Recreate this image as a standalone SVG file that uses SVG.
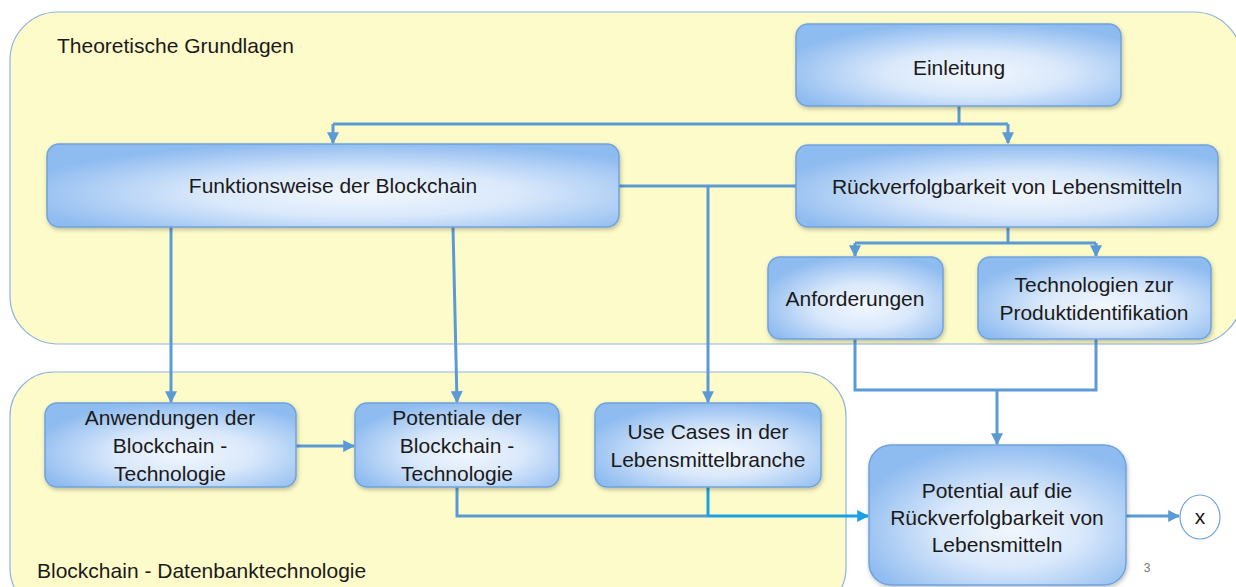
<svg xmlns="http://www.w3.org/2000/svg" width="1236" height="587" viewBox="0 0 1236 587">
  <defs>
    <radialGradient id="boxFill" cx="0.55" cy="0.6" r="0.62">
      <stop offset="0" stop-color="#F2F7FE"/>
      <stop offset="0.45" stop-color="#D9E8FB"/>
      <stop offset="1" stop-color="#8EBBF0"/>
    </radialGradient>
    <filter id="shadow" x="-10%" y="-10%" width="120%" height="130%">
      <feDropShadow dx="1" dy="2" stdDeviation="2" flood-color="#000" flood-opacity="0.25"/>
    </filter>
    <marker id="arrow" viewBox="0 0 10 10" refX="9" refY="5" markerWidth="4" markerHeight="4" orient="auto" markerUnits="strokeWidth">
      <path d="M0,0 L10,5 L0,10 z" fill="#5B9BD5"/>
    </marker>
    <marker id="arrowCyan" viewBox="0 0 10 10" refX="9" refY="5" markerWidth="4" markerHeight="4" orient="auto" markerUnits="strokeWidth">
      <path d="M0,0 L10,5 L0,10 z" fill="#1BA1E2"/>
    </marker>
  </defs>
  <style>
    .area { fill: #FEFBCA; stroke: #8DB3E2; stroke-width: 1.2; }
    .box { fill: url(#boxFill); stroke: #6FA3DC; stroke-width: 1.5; filter: url(#shadow); }
    .label { font-family: "Liberation Sans", Arial, sans-serif; font-size: 21px; fill: #1A1A1A; text-anchor: middle; }
    .area-label { font-family: "Liberation Sans", Arial, sans-serif; font-size: 21px; fill: #1A1A1A; }
    .conn { fill: none; stroke: #5B9BD5; stroke-width: 3; }
    .conn-cyan { fill: none; stroke: #1BA1E2; stroke-width: 3; }
  </style>

  <rect width="1236" height="587" fill="#FFFFFF"/>

  <!-- Areas -->
  <g id="area-theorie">
    <rect class="area" x="10" y="12" width="1232" height="332" rx="48" ry="48"/>
    <text class="area-label" x="57" y="53">Theoretische Grundlagen</text>
  </g>
  <g id="area-blockchain">
    <rect class="area" x="10" y="372" width="836" height="240" rx="44" ry="44"/>
    <text class="area-label" x="37" y="578">Blockchain - Datenbanktechnologie</text>
  </g>

  <!-- Connectors -->
  <g id="connectors">
    <path class="conn" d="M959,106 V124"/>
    <path class="conn" d="M333,124 H1008"/>
    <path class="conn" d="M333,124 V143" marker-end="url(#arrow)"/>
    <path class="conn" d="M1008,124 V143" marker-end="url(#arrow)"/>

    <path class="conn" d="M619,186 H796"/>
    <path class="conn" d="M708,186 V402" marker-end="url(#arrow)"/>
    <path class="conn" d="M171,227 V402" marker-end="url(#arrow)"/>
    <path class="conn" d="M453,227 L457,402" marker-end="url(#arrow)"/>

    <path class="conn" d="M1008,227 V243"/>
    <path class="conn" d="M855,243 H1096"/>
    <path class="conn" d="M855,243 V256" marker-end="url(#arrow)"/>
    <path class="conn" d="M1096,243 V256" marker-end="url(#arrow)"/>

    <path class="conn" d="M855,339 V390 H1096 V339"/>
    <path class="conn" d="M997,390 V444" marker-end="url(#arrow)"/>

    <path class="conn" d="M296,446 H354" marker-end="url(#arrow)"/>

    <path class="conn" d="M457,487 V516 H708"/>
    <path class="conn-cyan" d="M708,487 V516"/>
    <path class="conn-cyan" d="M708,516 H868" marker-end="url(#arrowCyan)"/>

    <path class="conn" d="M1126,516 H1179" marker-end="url(#arrow)"/>
  </g>

  <!-- Nodes -->
  <g id="node-einleitung">
    <rect class="box" x="796" y="24" width="325" height="82" rx="12"/>
    <text class="label" x="959" y="75">Einleitung</text>
  </g>
  <g id="node-funktionsweise">
    <rect class="box" x="47" y="144" width="572" height="83" rx="12"/>
    <text class="label" x="333" y="193">Funktionsweise der Blockchain</text>
  </g>
  <g id="node-rueckverfolgbarkeit">
    <rect class="box" x="796" y="145" width="422" height="82" rx="12"/>
    <text class="label" x="1007" y="194">Rückverfolgbarkeit von Lebensmitteln</text>
  </g>
  <g id="node-anforderungen">
    <rect class="box" x="768" y="257" width="175" height="82" rx="12"/>
    <text class="label" x="855" y="306">Anforderungen</text>
  </g>
  <g id="node-technologien">
    <rect class="box" x="978" y="257" width="233" height="82" rx="12"/>
    <text class="label" x="1094" y="292">Technologien zur</text>
    <text class="label" x="1094" y="320">Produktidentifikation</text>
  </g>
  <g id="node-anwendungen">
    <rect class="box" x="45" y="403" width="251" height="84" rx="12"/>
    <text class="label" x="170" y="425">Anwendungen der</text>
    <text class="label" x="170" y="453">Blockchain -</text>
    <text class="label" x="170" y="481">Technologie</text>
  </g>
  <g id="node-potentiale">
    <rect class="box" x="355" y="403" width="204" height="84" rx="12"/>
    <text class="label" x="457" y="425">Potentiale der</text>
    <text class="label" x="457" y="453">Blockchain -</text>
    <text class="label" x="457" y="481">Technologie</text>
  </g>
  <g id="node-usecases">
    <rect class="box" x="595" y="403" width="226" height="84" rx="12"/>
    <text class="label" x="708" y="439">Use Cases in der</text>
    <text class="label" x="708" y="467">Lebensmittelbranche</text>
  </g>
  <g id="node-potential-rueckverfolgbarkeit">
    <rect class="box" x="869" y="445" width="257" height="140" rx="22"/>
    <text class="label" x="997" y="498">Potential auf die</text>
    <text class="label" x="997" y="525">Rückverfolgbarkeit von</text>
    <text class="label" x="997" y="552">Lebensmitteln</text>
  </g>
  <g id="node-x">
    <ellipse cx="1200" cy="517" rx="20" ry="22" fill="#FFFFFF" stroke="#6FA3DC" stroke-width="1.2"/>
    <text class="label" x="1200" y="524" font-size="18">x</text>
  </g>
  <text x="1147" y="572" font-family="Liberation Sans, Arial, sans-serif" font-size="12" fill="#777777" text-anchor="middle">3</text>
</svg>
